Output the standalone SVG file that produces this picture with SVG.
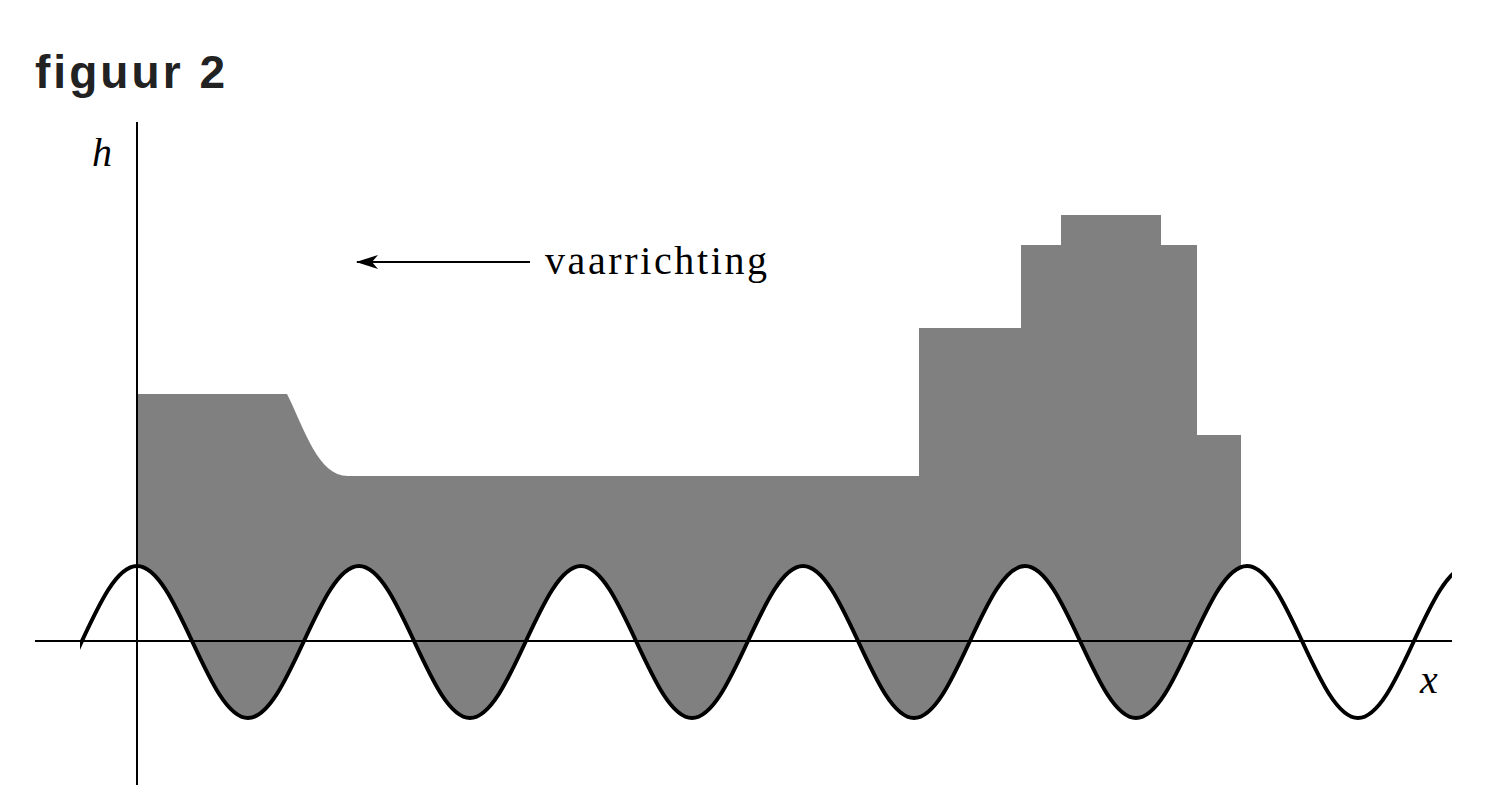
<svg xmlns="http://www.w3.org/2000/svg" width="1488" height="807" viewBox="0 0 1488 807">
<style>
.ax{stroke:#000;stroke-width:2;fill:none}
.wave{stroke:#000;stroke-width:4;fill:none}
.lbl{font-family:"Liberation Serif",serif;font-size:40px;fill:#000}
</style>
<defs>
<clipPath id="above"><path d="M26,718 C66.4,718 96.6,566 137,566 S207.6,718 248,718 S318.6,566 359,566 S429.6,718 470,718 S540.6,566 581,566 S651.6,718 692,718 S762.6,566 803,566 S873.6,718 914,718 S984.6,566 1025,566 S1095.6,718 1136,718 S1206.6,566 1247,566 S1317.6,718 1358,718 S1428.6,566 1469,566 L1469,0 L26,0 Z"/></clipPath>
<clipPath id="wv"><rect x="80" y="0" width="1372" height="807"/></clipPath>
<marker id="ah" markerWidth="22" markerHeight="14" refX="21" refY="7" orient="auto" markerUnits="userSpaceOnUse"><path d="M22,7 L0,0 L6,7 L0,14 Z" fill="#000"/></marker>
</defs>
<rect width="1488" height="807" fill="#fff"/>
<text x="35" y="88" font-family="Liberation Sans,Arial,sans-serif" font-weight="bold" font-size="46" textLength="190" fill="#222">figuur 2</text>
<g id="ship"><path clip-path="url(#above)" fill="#808080" d="M137,394 L287,394 C305,430 318,476 348,476 L919,476 L919,328 L1021,328 L1021,245 L1061,245 L1061,215 L1161,215 L1161,245 L1197,245 L1197,435 L1241,435 L1241,800 L137,800 Z"/></g>
<g id="axes">
<line class="ax" x1="137" y1="122" x2="137" y2="785"/>
<line class="ax" x1="35" y1="641" x2="1452" y2="641"/>
</g>
<g id="wave"><path class="wave" clip-path="url(#wv)" d="M26,718 C66.4,718 96.6,566 137,566 S207.6,718 248,718 S318.6,566 359,566 S429.6,718 470,718 S540.6,566 581,566 S651.6,718 692,718 S762.6,566 803,566 S873.6,718 914,718 S984.6,566 1025,566 S1095.6,718 1136,718 S1206.6,566 1247,566 S1317.6,718 1358,718 S1428.6,566 1469,566"/></g>
<g id="connectors"><line class="ax" x1="530" y1="262" x2="357" y2="262" marker-end="url(#ah)"/></g>
<text class="lbl" x="545" y="274" textLength="222">vaarrichting</text>
<text class="lbl" x="92" y="166" font-style="italic">h</text>
<text class="lbl" x="1420" y="693" font-style="italic">x</text>
</svg>
